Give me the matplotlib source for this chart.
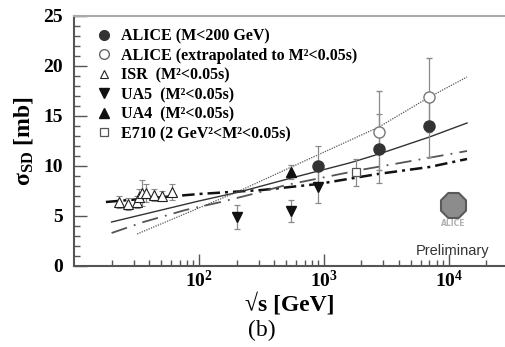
import matplotlib
matplotlib.use('Agg')
import matplotlib.pyplot as plt
from matplotlib.lines import Line2D
from matplotlib.ticker import LogLocator, NullFormatter, MultipleLocator

plt.rcParams['font.family'] = ['Liberation Serif', 'DejaVu Serif']
plt.rcParams['font.weight'] = 'bold'
plt.rcParams['mathtext.fontset'] = 'custom'
plt.rcParams['mathtext.rm'] = 'Liberation Serif:bold'
plt.rcParams['mathtext.it'] = 'Liberation Serif:bold'
plt.rcParams['mathtext.bf'] = 'Liberation Serif:bold'

# data points (sqrt(s) in GeV, sigma_SD in mb)
alice_x = [900, 2760, 7000]
alice_y = [10.0, 11.7, 14.0]
alice_lo = [2.0, 3.4, 3.1]
alice_hi = [2.0, 3.5, 3.1]

alice_ext_x = [2760, 7000]
alice_ext_y = [13.4, 16.9]
alice_ext_lo = [3.8, 3.5]
alice_ext_hi = [4.1, 3.9]

isr_x = [23, 27, 31.7, 33.3, 35, 38, 44, 51, 61]
isr_y = [6.4, 6.2, 6.4, 6.9, 7.3, 7.3, 7.1, 7.0, 7.4]
isr_err = [0.6, 0.6, 0.6, 0.8, 1.3, 0.9, 0.6, 0.5, 0.8]

ua5_x = [200, 546, 900]
ua5_y = [4.9, 5.5, 7.9]
ua5_err = [1.2, 1.1, 1.6]

ua4_x = [546]
ua4_y = [9.4]
ua4_err = [0.7]

e710_x = [1800]
e710_y = [9.4]
e710_err = [1.35]

# model curves
solid_x = [20, 100, 210, 550, 1600, 2760, 7000, 14000]
solid_y = [4.4, 6.5, 7.4, 8.8, 10.3, 11.2, 12.9, 14.3]
dotted_x = [32, 210, 550, 2760, 7000, 14000]
dotted_y = [3.2, 7.5, 9.9, 13.9, 16.9, 18.9]
ldash_x = [20, 36, 78, 150, 290, 500, 1950, 4070, 14000]
ldash_y = [3.3, 4.4, 5.6, 6.4, 7.3, 8.1, 9.6, 10.3, 11.5]
dashdot_x = [18, 100, 320, 900, 2700, 7000, 14000]
dashdot_y = [6.4, 7.2, 7.6, 8.2, 9.2, 9.9, 10.7]

x_ticks = [100, 1000, 10000]
x_ticklabels = [r'$\mathbf{10^{2}}$', r'$\mathbf{10^{3}}$', r'$\mathbf{10^{4}}$']

fig = plt.figure(figsize=(5.05, 3.47), dpi=100)
ax = fig.add_axes([74/505, 81/347, 431/505, 250/347])

# curves
ax.plot(dashdot_x, dashdot_y, color='#111111', lw=1.8, ls=(0, (5, 2, 1.2, 2)))
ax.plot(ldash_x, ldash_y, color='#555555', lw=1.3, ls=(0, (9, 4, 1, 4)))
ax.plot(solid_x, solid_y, color='#333333', lw=1.0)
ax.plot(dotted_x, dotted_y, color='#555555', lw=0.9, ls=(0, (1, 1)))

ebkw = dict(ecolor='#8a8a8a', elinewidth=0.9, capsize=2.5, capthick=0.9, ls='none')

ax.errorbar(alice_ext_x, alice_ext_y, yerr=[alice_ext_lo, alice_ext_hi], fmt='o',
            mfc='white', mec='#777777', ms=8, mew=1.0, **ebkw)
ax.errorbar(alice_x, alice_y, yerr=[alice_lo, alice_hi], fmt='o',
            mfc='#333333', mec='#333333', ms=8, **ebkw)
ax.errorbar(isr_x, isr_y, yerr=isr_err, fmt='^', mfc='white', mec='#222222',
            ms=7, mew=0.8, **ebkw)
ax.errorbar(ua5_x, ua5_y, yerr=ua5_err, fmt='v', mfc='#111111', mec='#111111',
            ms=7, **ebkw)
ax.errorbar(ua4_x, ua4_y, yerr=ua4_err, fmt='^', mfc='#111111', mec='#111111',
            ms=7, **ebkw)
ax.errorbar(e710_x, e710_y, yerr=e710_err, fmt='s', mfc='white', mec='#555555',
            ms=5.5, mew=0.9, **ebkw)

ax.set_xscale('log')
ax.set_xlim(10, 10**4.45)
ax.set_ylim(0, 25)

ax.yaxis.set_major_locator(MultipleLocator(5))
ax.yaxis.set_minor_locator(MultipleLocator(1))
ax.set_xticks(x_ticks, x_ticklabels)
ax.xaxis.set_minor_locator(LogLocator(base=10, subs=range(2, 10), numticks=20))
ax.xaxis.set_minor_formatter(NullFormatter())

ax.tick_params(which='both', direction='in', color='#555555', width=1.0)
ax.tick_params(which='major', length=9, labelsize=14)
ax.tick_params(which='minor', length=4.5)
ax.tick_params(axis='y', pad=8)
ax.tick_params(axis='x', pad=3)
ax.tick_params(top=False, right=False, which='both')
for lab in ax.get_yticklabels():
    lab.set_fontweight('bold')

ax.spines['right'].set_visible(False)
ax.spines['top'].set_color('#aaaaaa')
ax.spines['top'].set_linewidth(1.5)
for s in ['left', 'bottom']:
    ax.spines[s].set_color('#555555')
    ax.spines[s].set_linewidth(1.5)

ax.set_ylabel(r'σ$_{\rm SD}$ [mb]', fontsize=17, weight='bold', labelpad=6)
ax.set_xlabel('√s [GeV]', fontsize=17, weight='bold', labelpad=1)

handles = [
    Line2D([], [], ls='none', marker='o', mfc='#333333', mec='#333333', ms=7),
    Line2D([], [], ls='none', marker='o', mfc='white', mec='#666666', ms=7),
    Line2D([], [], ls='none', marker='^', mfc='white', mec='#222222', ms=6, mew=0.8),
    Line2D([], [], ls='none', marker='v', mfc='#111111', mec='#111111', ms=7),
    Line2D([], [], ls='none', marker='^', mfc='#111111', mec='#111111', ms=7),
    Line2D([], [], ls='none', marker='s', mfc='white', mec='#555555', ms=6, mew=0.9),
]
labels = [
    'ALICE (M<200 GeV)',
    'ALICE (extrapolated to M²<0.05s)',
    'ISR  (M²<0.05s)',
    'UA5  (M²<0.05s)',
    'UA4  (M²<0.05s)',
    'E710 (2 GeV²<M²<0.05s)',
]
ax.legend(handles, labels, loc='upper left', bbox_to_anchor=(0.025, 0.995),
          frameon=False, prop={'size': 11.5, 'weight': 'bold'},
          handlelength=1.0, handletextpad=0.55, labelspacing=0.22, borderpad=0.2)

# ALICE logo + Preliminary
ax.scatter([0.879], [0.244], transform=ax.transAxes, marker='8', s=380,
           color='#8c8c8c', edgecolors='#5a5a5a', linewidths=1.5, zorder=5)
ax.text(0.879, 0.168, 'ALICE', transform=ax.transAxes, ha='center', va='center',
        fontsize=5.5, color='#b0b0b0', family='DejaVu Sans', weight='bold')
ax.text(0.879, 0.06, 'Preliminary', transform=ax.transAxes, ha='center',
        va='center', fontsize=10.5, color='#333333', family='Liberation Sans',
        weight='normal')

fig.text(262/505, 1 - 330/347, '(b)', ha='center', va='center', fontsize=17,
         weight='normal')

fig.savefig('out.png', dpi=100)
